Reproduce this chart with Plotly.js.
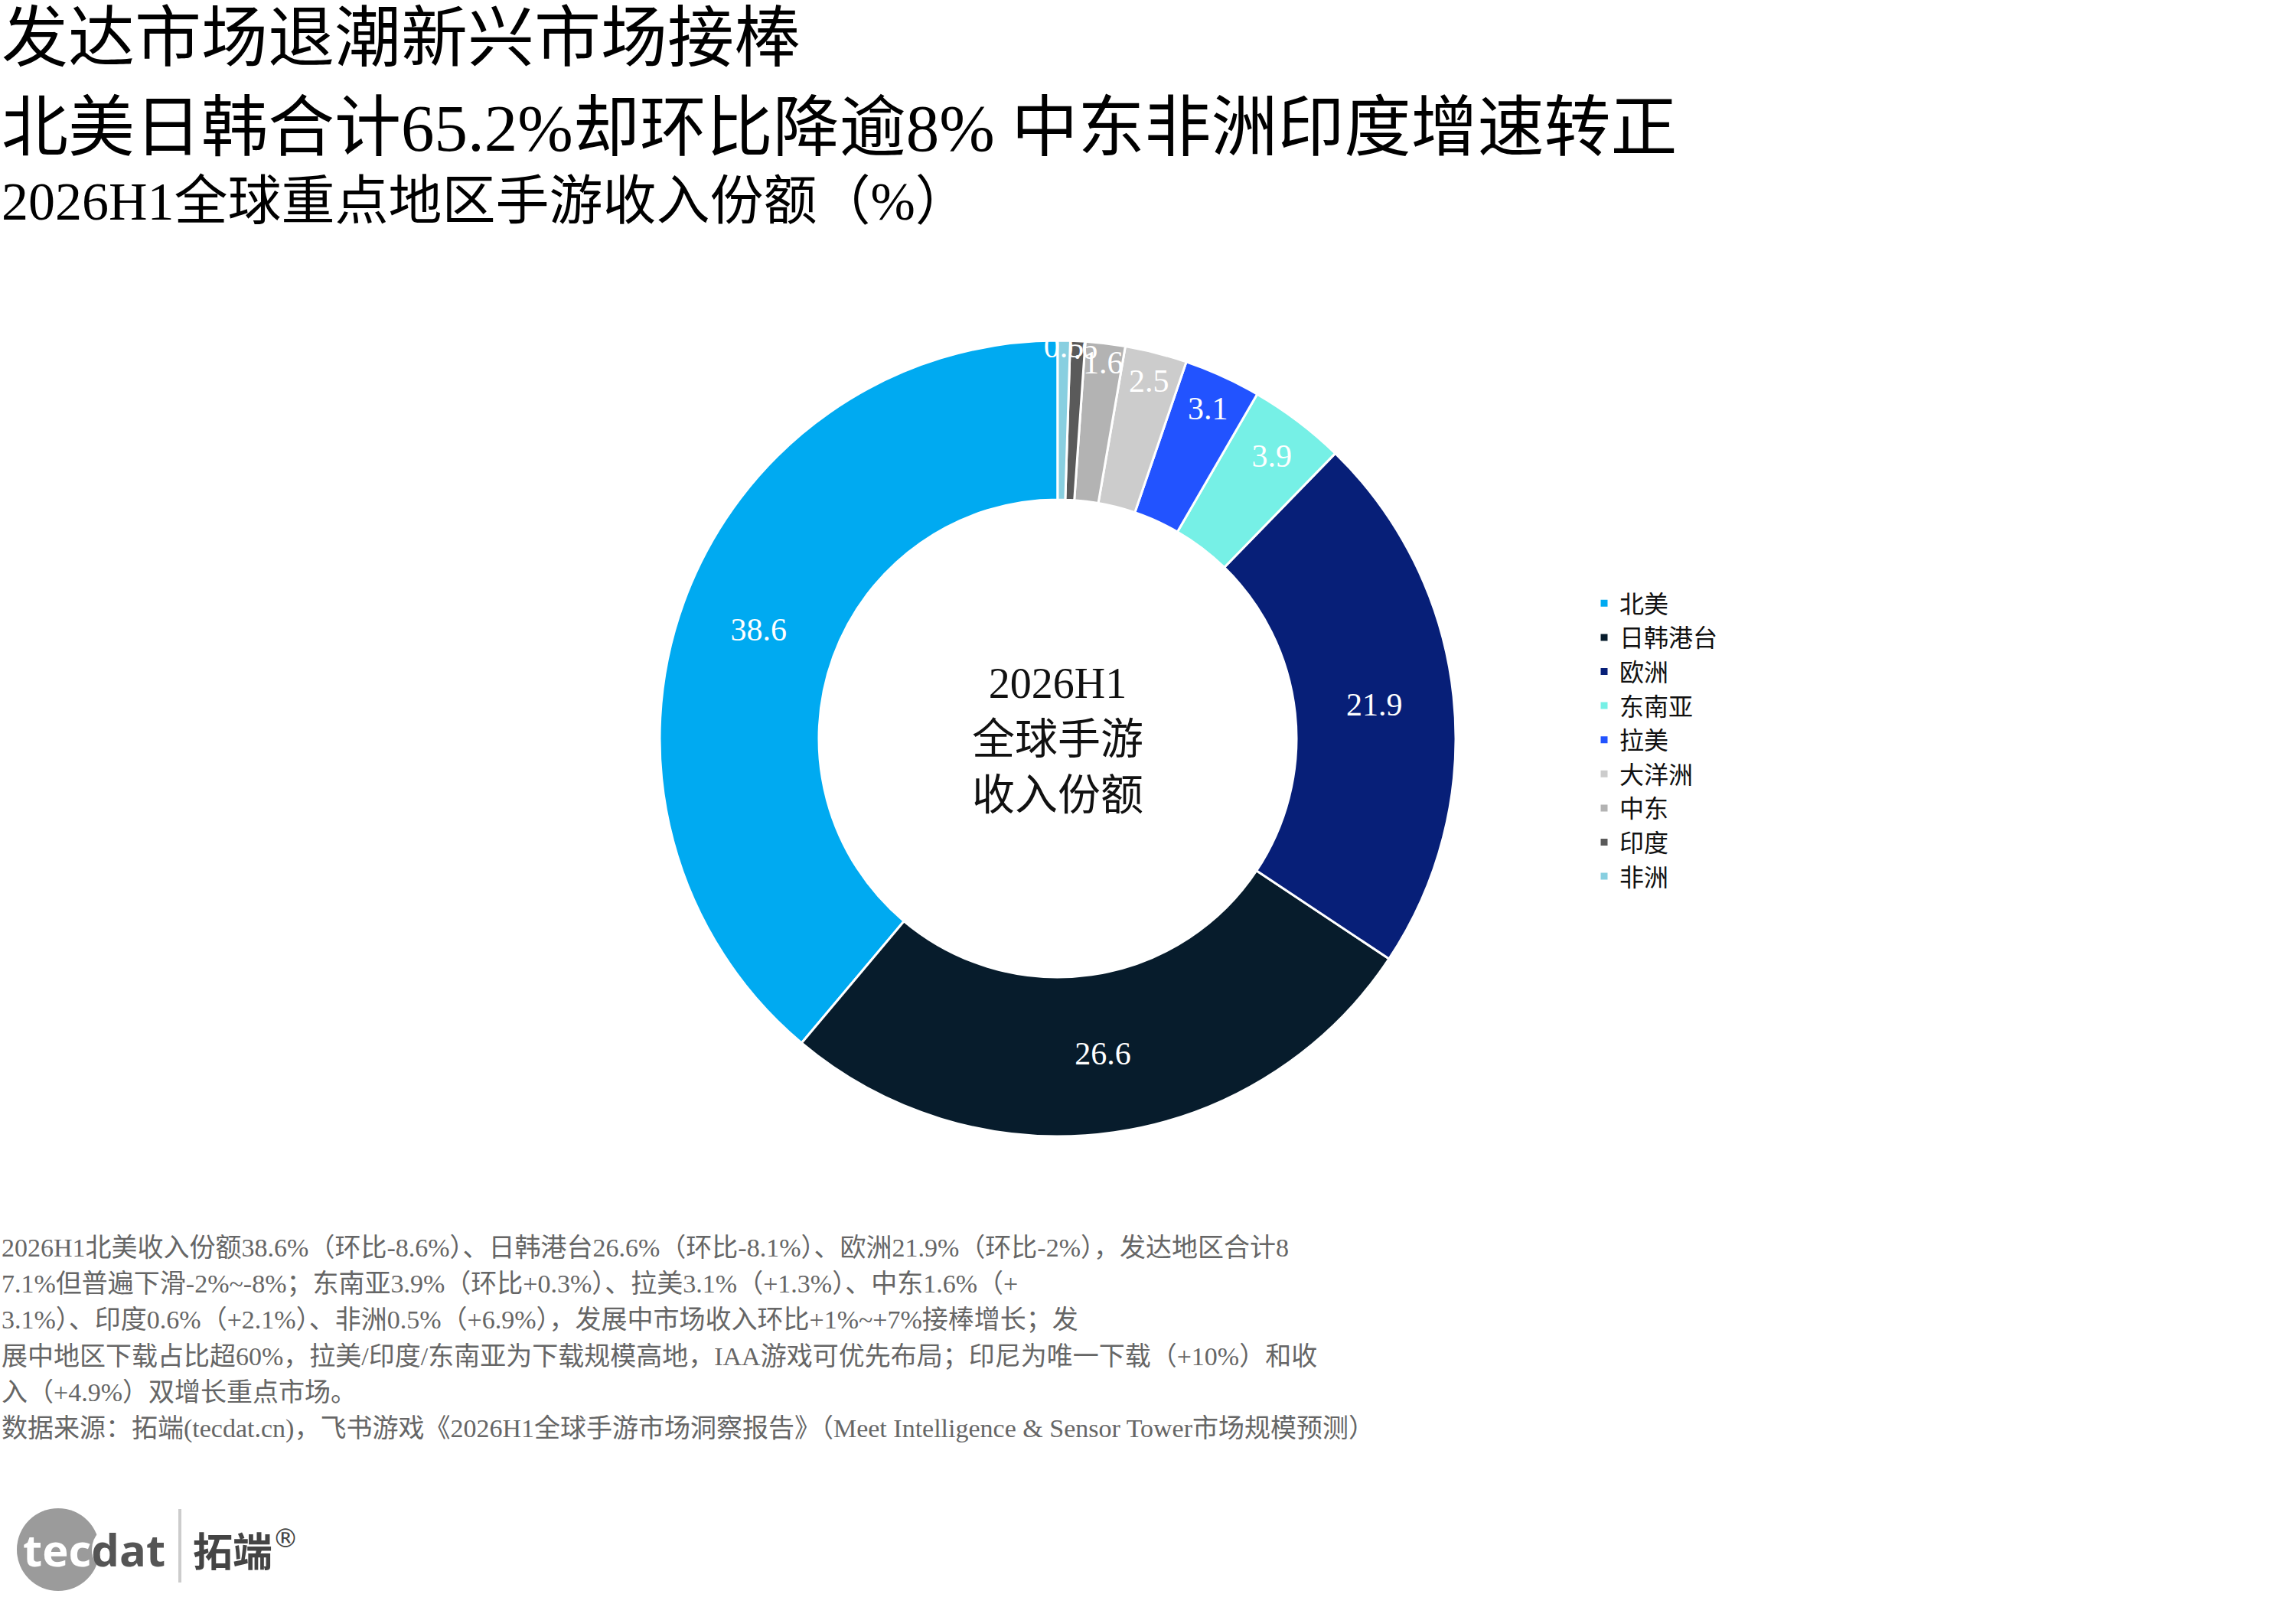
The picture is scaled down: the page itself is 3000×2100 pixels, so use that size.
<!DOCTYPE html>
<html>
<head>
<meta charset="utf-8">
<script src="https://cdn.plot.ly/plotly-3.0.1.min.js"></script>
<style>
  html, body { margin: 0; padding: 0; background: #fff; }
  #chart { width: 3000px; height: 2100px; }
</style>
</head>
<body>
<div id="chart"></div>
<script>
// ---- data ----
const regions = ['北美', '日韩港台', '欧洲', '东南亚', '拉美', '大洋洲', '中东', '印度', '非洲'];
const shares = [38.6, 26.6, 21.9, 3.9, 3.1, 2.5, 1.6, 0.6, 0.5];
const sliceColors = ['#00AAF1', '#071C2C', '#071F78', '#76F0E6', '#2253FF', '#CCCCCC', '#B3B3B3', '#5A5A5A', '#88CFE0'];

const titleLines = [
  '发达市场退潮新兴市场接棒',
  '北美日韩合计65.2%却环比降逾8% 中东非洲印度增速转正',
  '2026H1全球重点地区手游收入份额（%）'
];
const centerLabel = '2026H1<br>全球手游<br>收入份额';
const noteLines = [
  '2026H1北美收入份额38.6%（环比-8.6%）、日韩港台26.6%（环比-8.1%）、欧洲21.9%（环比-2%），发达地区合计8',
  '7.1%但普遍下滑-2%~-8%；东南亚3.9%（环比+0.3%）、拉美3.1%（+1.3%）、中东1.6%（+',
  '3.1%）、印度0.6%（+2.1%）、非洲0.5%（+6.9%），发展中市场收入环比+1%~+7%接棒增长；发',
  '展中地区下载占比超60%，拉美/印度/东南亚为下载规模高地，IAA游戏可优先布局；印尼为唯一下载（+10%）和收',
  '入（+4.9%）双增长重点市场。',
  '数据来源：拓端(tecdat.cn)，飞书游戏《2026H1全球手游市场洞察报告》（Meet Intelligence & Sensor Tower市场规模预测）'
];

// ---- layout helpers ----
const W = 3000, H = 2100;
const X = px => px / W;
const Y = py => 1 - py / H;
const FONT = "'Liberation Serif', 'Noto Sans CJK SC', serif";
const CJK_SANS = "'Noto Sans CJK SC', 'Open Sans', sans-serif";

const cx = 1382, cy = 965, R = 520;

// first slice starts at 12 o'clock and runs counterclockwise
const total = shares.reduce((a, b) => a + b, 0);
const startRotation = -shares[0] / total * 360;

const trace = {
  type: 'pie',
  labels: regions,
  values: shares,
  sort: false,
  direction: 'counterclockwise',
  rotation: startRotation,
  hole: 0.6,
  marker: { colors: sliceColors, line: { color: '#ffffff', width: 3 } },
  textinfo: 'value',
  textposition: 'inside',
  insidetextorientation: 'horizontal',
  textfont: { color: '#ffffff', size: 42, family: FONT },
  domain: { x: [X(cx - R), X(cx + R)], y: [Y(cy + R), Y(cy - R)] },
  hoverinfo: 'label+value'
};

const annotations = [];
const titleSpecs = [
  { size: 87, y: 0, anchor: 'top' },
  { size: 87, y: 168, anchor: 'middle' },
  { size: 70, y: 263, anchor: 'middle' }
];
titleLines.forEach((t, i) => {
  annotations.push({
    text: t, xref: 'paper', yref: 'paper', x: 0, y: Y(titleSpecs[i].y),
    xanchor: 'left', yanchor: titleSpecs[i].anchor, showarrow: false, align: 'left',
    font: { size: titleSpecs[i].size, color: '#000000', family: FONT }
  });
});

annotations.push({
  text: centerLabel, xref: 'paper', yref: 'paper', x: X(cx), y: Y(966),
  xanchor: 'center', yanchor: 'middle', showarrow: false, align: 'center',
  font: { size: 56, color: '#111111', family: FONT }
});

noteLines.forEach((t, i) => {
  annotations.push({
    text: t, xref: 'paper', yref: 'paper', x: 0, y: Y(1630 + i * 47.4),
    xanchor: 'left', yanchor: 'middle', showarrow: false, align: 'left',
    font: { size: 34, color: '#666666', family: FONT }
  });
});

// logo
annotations.push({
  text: "<b><span style='color:#ffffff'>tec</span><span style='color:#555555'>dat</span></b>",
  xref: 'paper', yref: 'paper', x: X(28), y: Y(2024),
  xanchor: 'left', yanchor: 'middle', showarrow: false,
  font: { size: 58, family: "'Open Sans', 'DejaVu Sans', sans-serif", color: '#555555' }
});
annotations.push({
  text: "<b>拓端</b>",
  xref: 'paper', yref: 'paper', x: X(250), y: Y(2024),
  xanchor: 'left', yanchor: 'middle', showarrow: false,
  font: { size: 52, family: CJK_SANS, color: '#444444' }
});
annotations.push({
  text: "®",
  xref: 'paper', yref: 'paper', x: X(354), y: Y(2010),
  xanchor: 'left', yanchor: 'middle', showarrow: false,
  font: { size: 34, family: "'DejaVu Sans', sans-serif", color: '#444444' }
});

const shapes = [
  { type: 'circle', xref: 'paper', yref: 'paper', layer: 'above',
    x0: X(22), x1: X(130), y0: Y(2079), y1: Y(1971),
    fillcolor: '#9B9B9B', line: { width: 0 } },
  { type: 'circle', xref: 'paper', yref: 'paper', layer: 'above',
    x0: X(120), x1: X(186), y0: Y(2058), y1: Y(1992),
    fillcolor: '#ffffff', line: { width: 0 } },
  { type: 'line', xref: 'paper', yref: 'paper', layer: 'above',
    x0: X(235), x1: X(235), y0: Y(2068), y1: Y(1972),
    line: { color: '#CCCCCC', width: 4 } }
];

const layout = {
  width: W, height: H,
  margin: { l: 0, r: 0, t: 0, b: 0 },
  paper_bgcolor: '#ffffff',
  plot_bgcolor: '#ffffff',
  font: { family: FONT, color: '#111111' },
  showlegend: true,
  legend: {
    x: X(2076), xanchor: 'left', y: Y(967), yanchor: 'middle',
    font: { size: 32, color: '#111111', family: FONT },
    bgcolor: 'rgba(0,0,0,0)', traceorder: 'normal'
  },
  uniformtext: { minsize: 42, mode: 'show' },
  annotations: annotations,
  shapes: shapes
};

Plotly.newPlot('chart', [trace], layout, { displayModeBar: false, staticPlot: true });
</script>
</body>
</html>
